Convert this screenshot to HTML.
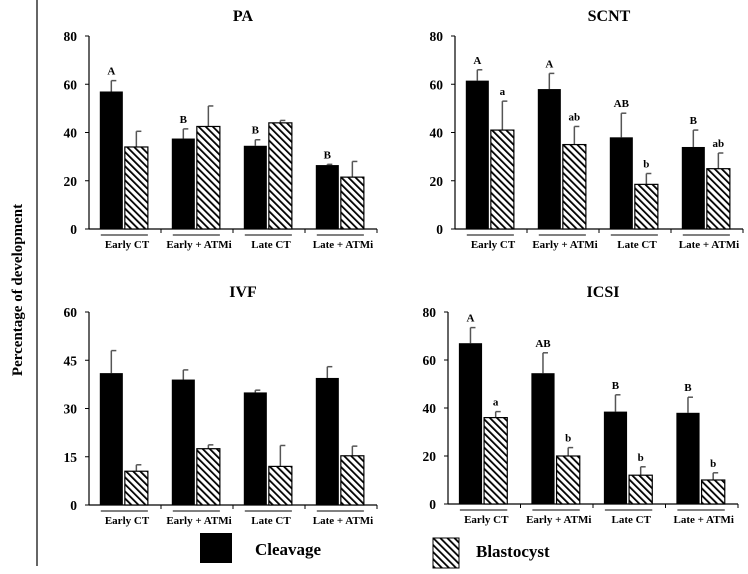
<!DOCTYPE html>
<html><head><meta charset="utf-8"><style>
body{margin:0;background:#fff;width:748px;height:574px;overflow:hidden}
svg{display:block;font-family:"Liberation Serif",serif}
</style></head><body>
<svg id="c" width="748" height="574">
<defs><pattern id="hatch" width="5" height="5" patternUnits="userSpaceOnUse" patternTransform="rotate(-45)"><rect width="5" height="5" fill="#fff"/><rect width="1.8" height="5" fill="#000"/></pattern></defs>
<line x1="37" y1="0" x2="37" y2="566" stroke="#000" stroke-width="1.2"/>
<text x="22" y="290" transform="rotate(-90 22 290)" text-anchor="middle" font-weight="bold" font-size="15">Percentage of development</text>
<rect x="200" y="533" width="32" height="30" fill="#000"/>
<text x="255" y="555" font-weight="bold" font-size="17">Cleavage</text>
<rect x="433" y="538" width="26" height="30" fill="url(#hatch)" stroke="#000"/>
<text x="476" y="557" font-weight="bold" font-size="17">Blastocyst</text>
</svg>
<script>
const categories=["Early CT","Early + ATMi","Late CT","Late + ATMi"];
const paCleavage=[57,37.5,34.5,26.5], paCleavageErr=[4.5,4,2.5,0.3];
const paBlast=[34,42.5,44,21.5], paBlastErr=[6.5,8.5,1,6.5];
const paClLetters=["A","B","B","B"], paBlLetters=["","","",""];
const scntCleavage=[61.5,58,38,34], scntCleavageErr=[4.5,6.5,10,7];
const scntBlast=[41,35,18.5,25], scntBlastErr=[12,7.5,4.5,6.5];
const scntClLetters=["A","A","AB","B"], scntBlLetters=["a","ab","b","ab"];
const ivfCleavage=[41,39,35,39.5], ivfCleavageErr=[7,3,0.7,3.5];
const ivfBlast=[10.5,17.5,12,15.3], ivfBlastErr=[2,1.2,6.5,3];
const ivfClLetters=["","","",""], ivfBlLetters=["","","",""];
const icsiCleavage=[67,54.5,38.5,38], icsiCleavageErr=[6.5,8.5,7,6.5];
const icsiBlast=[36,20,12,10], icsiBlastErr=[2.5,3.5,3.5,3];
const icsiClLetters=["A","AB","B","B"], icsiBlLetters=["a","b","b","b"];
const ticks80=[0,20,40,60,80], ticks60=[0,15,30,45,60];
const NS="http://www.w3.org/2000/svg", svg=document.getElementById("c");
function mk(t,a,parent){const e=document.createElementNS(NS,t);for(const k in a)e.setAttribute(k,a[k]);(parent||svg).appendChild(e);return e;}
function panel(id,title,x0,x1,y0,yTop,max,ticks,cl,clE,bl,blE,clL,blL){
  const g=mk("g",{});
  
  
  const y=v=>y0-(v/max)*(y0-yTop);
  const gw=(x1-x0)/4;
  const t=mk("text",{x:(x0+x1)/2+10,y:yTop-15,"text-anchor":"middle","font-weight":"bold","font-size":16},g);t.textContent=title;
  
  
  const ya=mk("line",{x1:x0,y1:yTop,x2:x0,y2:y0,stroke:"#000","stroke-width":1.2},g);
  
  
  const xa=mk("line",{x1:x0,y1:y0,x2:x1,y2:y0,stroke:"#000","stroke-width":1.2},g);
  
  
  ticks.forEach(v=>{
    mk("line",{x1:x0-4,y1:y(v),x2:x0,y2:y(v),stroke:"#000"},g);
    const tl=mk("text",{x:x0-12,y:y(v)+5,"text-anchor":"end","font-weight":"bold","font-size":13.5},g);tl.textContent=v;
    
    
  });
  for(let i=1;i<=4;i++)mk("line",{x1:x0+gw*i,y1:y0,x2:x0+gw*i,y2:y0+4,stroke:"#000"},g);
  const bw=gw*0.32;
  categories.forEach((c,i)=>{
    const gx=x0+gw*i, bx=gx+gw*0.15, hx=bx+bw+2;
    const e1=mk("line",{x1:bx+bw/2,y1:y(cl[i]),x2:bx+bw/2,y2:y(cl[i]+clE[i]),stroke:"#555","stroke-width":1.5},g);
    mk("line",{x1:bx+bw/2,y1:y(cl[i]+clE[i]),x2:bx+bw/2+5,y2:y(cl[i]+clE[i]),stroke:"#555","stroke-width":1.5},g);
    
    
    const e2=mk("line",{x1:hx+bw/2,y1:y(bl[i]),x2:hx+bw/2,y2:y(bl[i]+blE[i]),stroke:"#555","stroke-width":1.5},g);
    mk("line",{x1:hx+bw/2,y1:y(bl[i]+blE[i]),x2:hx+bw/2+5,y2:y(bl[i]+blE[i]),stroke:"#555","stroke-width":1.5},g);
    
    
    const b1=mk("rect",{x:bx,y:y(cl[i]),width:bw,height:y0-y(cl[i]),fill:"#000"},g);
    
    
    const b2=mk("rect",{x:hx,y:y(bl[i]),width:bw,height:y0-y(bl[i]),fill:"url(#hatch)",stroke:"#000","stroke-width":1.2},g);
    
    
    if(clL[i]){const l=mk("text",{x:bx+bw/2,y:y(cl[i]+clE[i])-6,"text-anchor":"middle","font-weight":"bold","font-size":11},g);l.textContent=clL[i];
      
      }
    if(blL[i]){const l=mk("text",{x:hx+bw/2,y:y(bl[i]+blE[i])-6,"text-anchor":"middle","font-weight":"bold","font-size":11},g);l.textContent=blL[i];
      
      }
    mk("line",{x1:bx+1,y1:y0+6,x2:hx+bw,y2:y0+6,stroke:"#000"},g);
    const cx=mk("text",{x:gx+gw/2+2,y:y0+19,"text-anchor":"middle","font-weight":"bold","font-size":11},g);cx.textContent=c;
    
    
  });
}
panel("pa","PA",89,377,229,36,80,ticks80,paCleavage,paCleavageErr,paBlast,paBlastErr,paClLetters,paBlLetters);
panel("scnt","SCNT",455,743,229,36,80,ticks80,scntCleavage,scntCleavageErr,scntBlast,scntBlastErr,scntClLetters,scntBlLetters);
panel("ivf","IVF",89,377,505,312,60,ticks60,ivfCleavage,ivfCleavageErr,ivfBlast,ivfBlastErr,ivfClLetters,ivfBlLetters);
panel("icsi","ICSI",448,738,504,312,80,ticks80,icsiCleavage,icsiCleavageErr,icsiBlast,icsiBlastErr,icsiClLetters,icsiBlLetters);
</script>
</body></html>
